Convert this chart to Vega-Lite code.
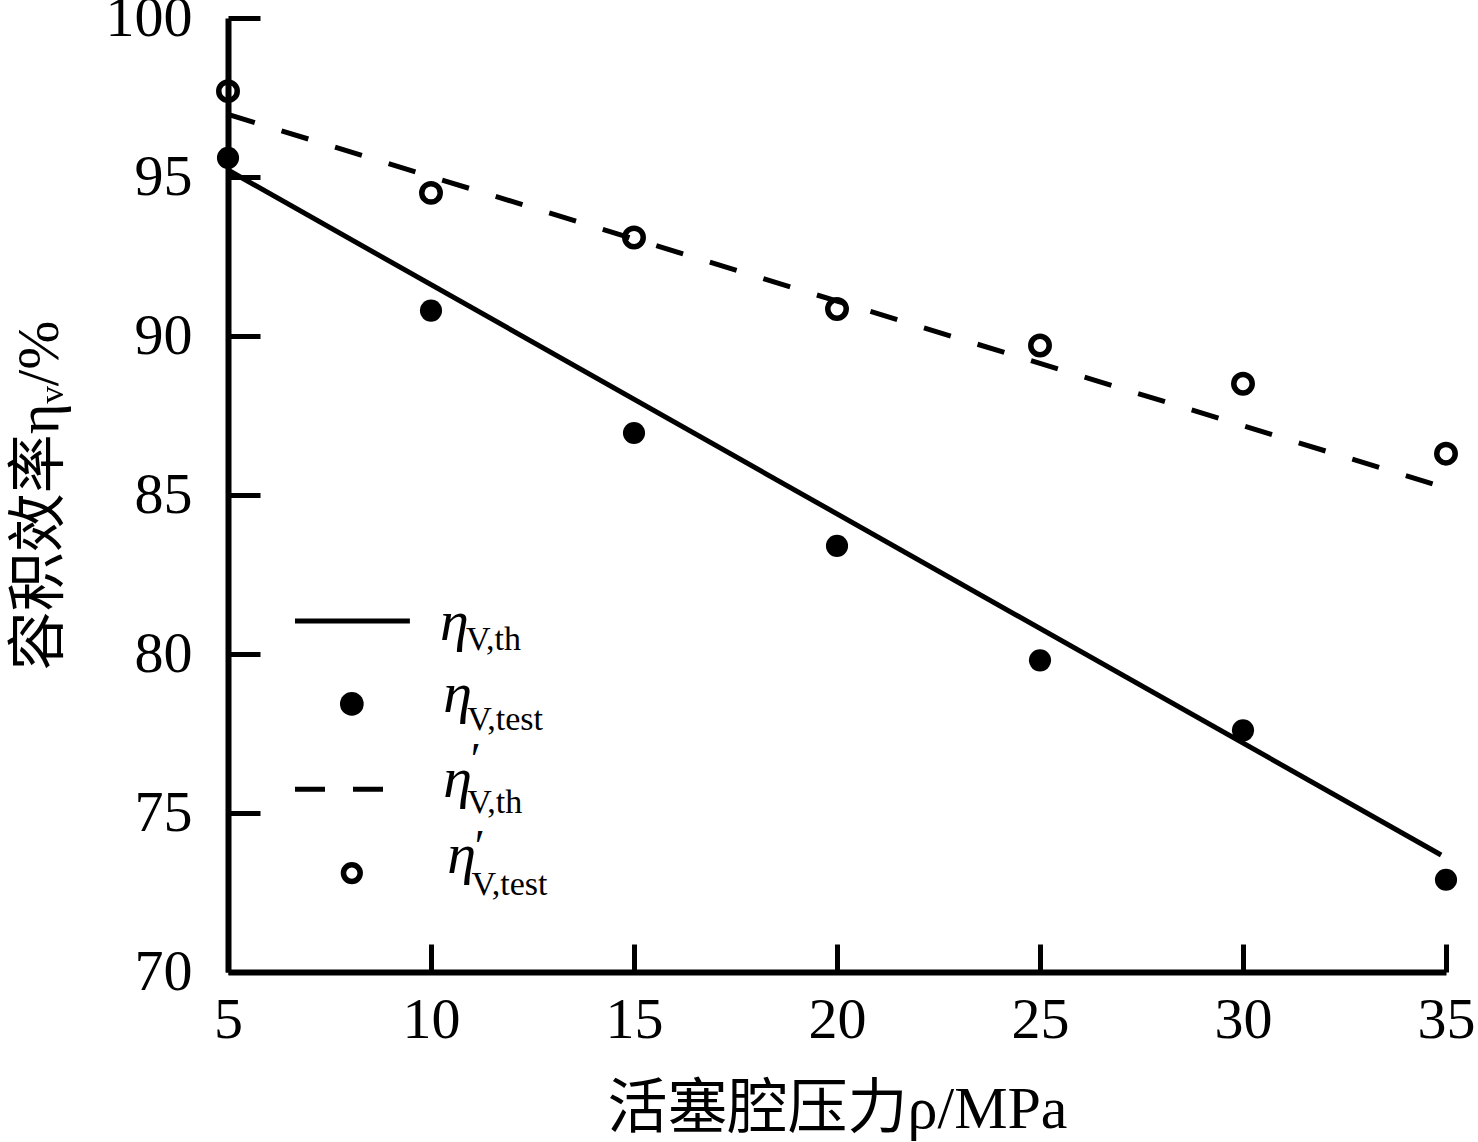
{
  "$schema": "https://vega.github.io/schema/vega-lite/v6.json",
  "width": 1218,
  "height": 954,
  "autosize": {"type": "none"},
  "padding": {"left": 228, "top": 18, "right": 32, "bottom": 170},
  "background": "white",
  "config": {"view": {"stroke": null}, "font": "Liberation Serif"},
  "datasets": {
    "pts": [
      {"s": "test", "x": 5, "y": 95.6},
      {"s": "test", "x": 10, "y": 90.8},
      {"s": "test", "x": 15, "y": 86.95},
      {"s": "test", "x": 20, "y": 83.4},
      {"s": "test", "x": 25, "y": 79.8},
      {"s": "test", "x": 30, "y": 77.6},
      {"s": "test", "x": 35, "y": 72.9},
      {"s": "test2", "x": 5, "y": 97.7},
      {"s": "test2", "x": 10, "y": 94.5},
      {"s": "test2", "x": 15, "y": 93.1},
      {"s": "test2", "x": 20, "y": 90.85},
      {"s": "test2", "x": 25, "y": 89.7},
      {"s": "test2", "x": 30, "y": 88.5},
      {"s": "test2", "x": 35, "y": 86.3}
    ],
    "fits": [
      {"s": "th", "x": 5, "y": 95.22},
      {"s": "th", "x": 34.88, "y": 73.68},
      {"s": "th2", "x": 5, "y": 96.97},
      {"s": "th2", "x": 34.8, "y": 85.3}
    ],
    "legLines": [
      {"s": "th", "x": 6.65, "y": 81.04},
      {"s": "th", "x": 9.48, "y": 81.04},
      {"s": "th2", "x": 6.65, "y": 75.75},
      {"s": "th2", "x": 8.82, "y": 75.75}
    ],
    "legPts": [
      {"s": "test", "x": 8.05, "y": 78.43},
      {"s": "test2", "x": 8.05, "y": 73.11}
    ],
    "legEta": [
      {"x": 10.22, "y": 80.44, "t": "η"},
      {"x": 10.3, "y": 78.18, "t": "η"},
      {"x": 10.3, "y": 75.5, "t": "η"},
      {"x": 10.4, "y": 73.11, "t": "η"}
    ],
    "legSub": [
      {"x": 10.86, "y": 80.13, "t": "V,th"},
      {"x": 10.89, "y": 77.61, "t": "V,test"},
      {"x": 10.89, "y": 75.0, "t": "V,th"},
      {"x": 11.0, "y": 72.42, "t": "V,test"}
    ],
    "legPrime": [
      {"x": 10.98, "y": 76.2, "t": "′"},
      {"x": 11.08, "y": 73.45, "t": "′"}
    ]
  },
  "encoding": {
    "x": {
      "field": "x",
      "type": "quantitative",
      "scale": {"domain": [5, 35], "nice": false, "zero": false},
      "axis": {
        "title": "活塞腔压力ρ/MPa",
        "values": [5, 10, 15, 20, 25, 30, 35],
        "grid": false,
        "domainColor": "black",
        "domainWidth": 6,
        "tickColor": "black",
        "tickWidth": 5,
        "tickSize": -28,
        "labelFontSize": 58,
        "labelColor": "black",
        "labelFont": "Liberation Serif",
        "labelPadding": 47,
        "labelFlush": false,
        "labelOverlap": false,
        "titleFont": "Liberation Serif, Noto Sans CJK SC",
        "titleFontSize": 60,
        "titleFontWeight": "normal",
        "titleColor": "black",
        "titlePadding": 31
      }
    },
    "y": {
      "field": "y",
      "type": "quantitative",
      "scale": {"domain": [70, 100], "nice": false, "zero": false},
      "axis": {
        "title": "容积效率ηᵥ/%",
        "values": [70, 75, 80, 85, 90, 95, 100],
        "grid": false,
        "domainColor": "black",
        "domainWidth": 6,
        "tickColor": "black",
        "tickWidth": 5,
        "tickSize": -32,
        "labelFontSize": 58,
        "labelColor": "black",
        "labelFont": "Liberation Serif",
        "labelPadding": 68,
        "labelFlush": false,
        "labelOverlap": false,
        "titleFont": "Liberation Serif, Noto Sans CJK SC",
        "titleFontSize": 59,
        "titleFontWeight": "normal",
        "titleColor": "black",
        "titlePadding": 36
      }
    }
  },
  "layer": [
    {
      "data": {"name": "fits"},
      "transform": [{"filter": "datum.s === 'th'"}],
      "mark": {"type": "line", "color": "black", "strokeWidth": 5}
    },
    {
      "data": {"name": "fits"},
      "transform": [{"filter": "datum.s === 'th2'"}],
      "mark": {"type": "line", "color": "black", "strokeWidth": 5, "strokeDash": [28, 28]}
    },
    {
      "data": {"name": "pts"},
      "transform": [{"filter": "datum.s === 'test'"}],
      "mark": {"type": "point", "shape": "circle", "filled": true, "color": "black", "size": 490, "opacity": 1}
    },
    {
      "data": {"name": "pts"},
      "transform": [{"filter": "datum.s === 'test2'"}],
      "mark": {"type": "point", "shape": "circle", "filled": false, "color": "black", "size": 340, "strokeWidth": 5.5, "opacity": 1}
    },
    {
      "data": {"name": "legLines"},
      "transform": [{"filter": "datum.s === 'th'"}],
      "mark": {"type": "line", "color": "black", "strokeWidth": 5}
    },
    {
      "data": {"name": "legLines"},
      "transform": [{"filter": "datum.s === 'th2'"}],
      "mark": {"type": "line", "color": "black", "strokeWidth": 5, "strokeDash": [30, 28]}
    },
    {
      "data": {"name": "legPts"},
      "transform": [{"filter": "datum.s === 'test'"}],
      "mark": {"type": "point", "shape": "circle", "filled": true, "color": "black", "size": 560, "opacity": 1}
    },
    {
      "data": {"name": "legPts"},
      "transform": [{"filter": "datum.s === 'test2'"}],
      "mark": {"type": "point", "shape": "circle", "filled": false, "color": "black", "size": 280, "strokeWidth": 5.5, "opacity": 1}
    },
    {
      "data": {"name": "legEta"},
      "mark": {"type": "text", "align": "left", "baseline": "alphabetic", "font": "Liberation Serif", "fontStyle": "italic", "fontSize": 58, "color": "black"},
      "encoding": {"text": {"field": "t"}}
    },
    {
      "data": {"name": "legSub"},
      "mark": {"type": "text", "align": "left", "baseline": "alphabetic", "font": "Liberation Serif", "fontSize": 34, "color": "black"},
      "encoding": {"text": {"field": "t"}}
    },
    {
      "data": {"name": "legPrime"},
      "mark": {"type": "text", "align": "left", "baseline": "alphabetic", "font": "Liberation Serif", "fontSize": 46, "color": "black"},
      "encoding": {"text": {"field": "t"}}
    }
  ]
}
